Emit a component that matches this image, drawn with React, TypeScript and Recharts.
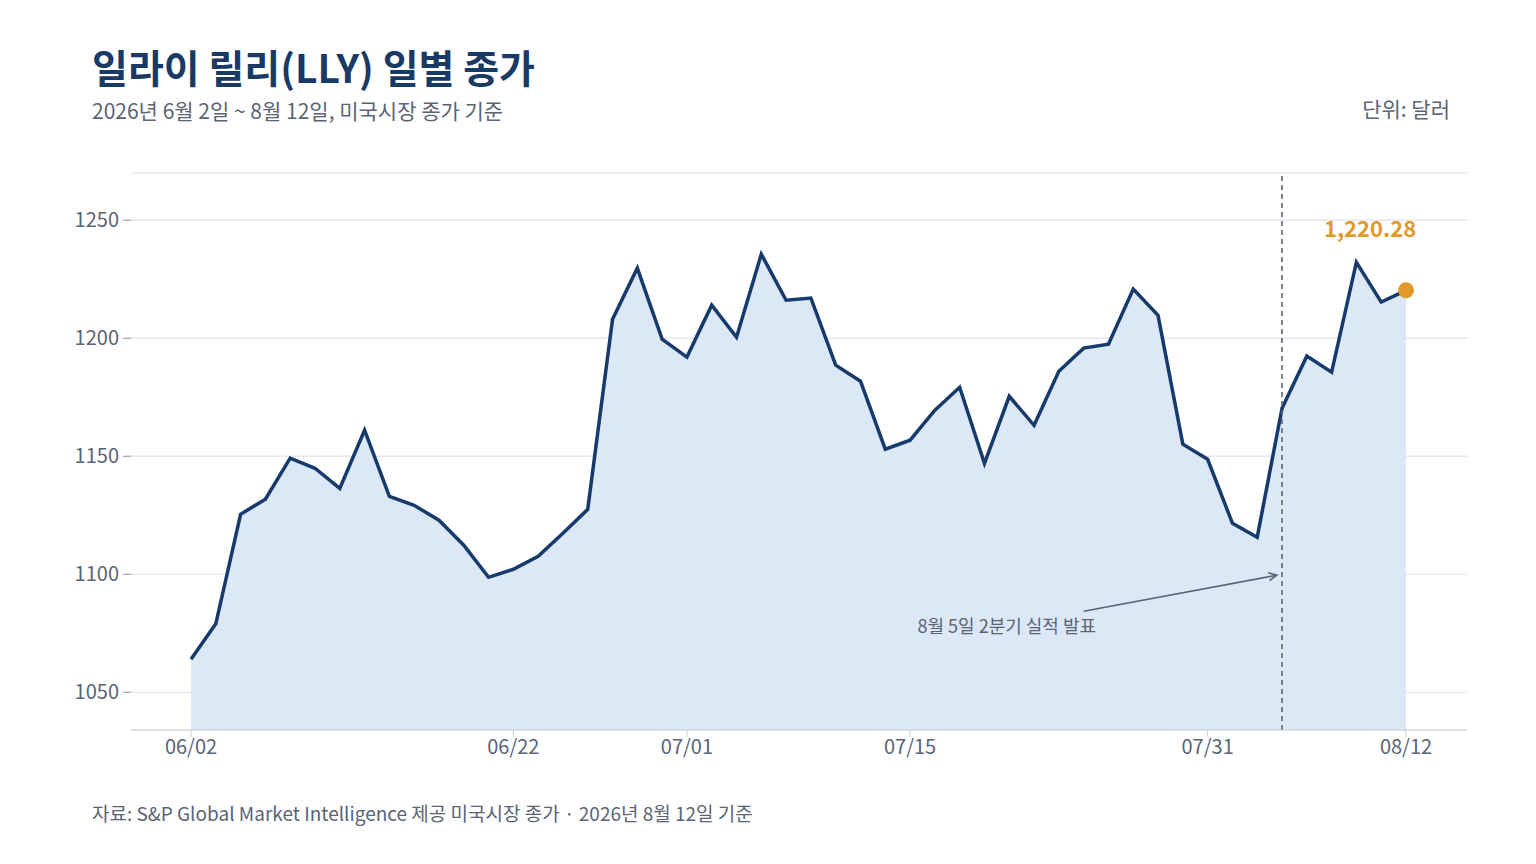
import React from "react";
import {
  ComposedChart,
  Area,
  XAxis,
  YAxis,
  CartesianGrid,
  ReferenceLine,
  ReferenceDot,
} from "recharts";

const dates = [
  "06/02", "06/03", "06/04", "06/05", "06/08", "06/09", "06/10", "06/11", "06/12", "06/15",
  "06/16", "06/17", "06/18", "06/22", "06/23", "06/24", "06/25", "06/26", "06/29", "06/30",
  "07/01", "07/02", "07/06", "07/07", "07/08", "07/09", "07/10", "07/13", "07/14", "07/15",
  "07/16", "07/17", "07/20", "07/21", "07/22", "07/23", "07/24", "07/27", "07/28", "07/29",
  "07/30", "07/31", "08/03", "08/04", "08/05", "08/06", "08/07", "08/10", "08/11", "08/12",
];

const closes = [
  1064, 1079, 1125.4, 1131.8, 1149.2, 1144.9, 1136.4, 1161, 1133, 1129.2,
  1122.9, 1112.3, 1098.7, 1102.1, 1107.6, 1117.4, 1127.5, 1208, 1229.7, 1199.6,
  1192, 1214, 1200.4, 1235.6, 1216.1, 1217, 1188.6, 1181.8, 1153, 1156.8,
  1169.5, 1179.2, 1147, 1175.4, 1163.1, 1186, 1195.8, 1197.5, 1220.8, 1209.7,
  1155.1, 1148.7, 1121.6, 1115.7, 1170.3, 1192.4, 1185.6, 1232.2, 1215.3, 1220.28,
];

const xTickLabels = ["06/02", "06/22", "07/01", "07/15", "07/31", "08/12"];
const yTicks = [1050, 1100, 1150, 1200, 1250];

const data = dates.map((d, i) => ({ i, date: d, close: closes[i] }));
const xTicks = xTickLabels.map((l) => dates.indexOf(l));
const eventIdx = dates.indexOf("08/05");
const lastIdx = dates.length - 1;

const FONT = "'Noto Sans CJK KR', 'Noto Sans', sans-serif";
const GRAY = "#5a6475";
const NAVY = "#163a6b";

// 화살표 (주석선)
const Arrow = (props: any) => {
  const { x1, y1, x2, y2 } = props;
  if (x1 == null) return null;
  const a = Math.atan2(y2 - y1, x2 - x1);
  const L = 9;
  const p1 = [x2 - L * Math.cos(a - 0.45), y2 - L * Math.sin(a - 0.45)];
  const p2 = [x2 - L * Math.cos(a + 0.45), y2 - L * Math.sin(a + 0.45)];
  return (
    <g stroke={GRAY} strokeWidth={1.6} fill="none">
      <line x1={x1} y1={y1} x2={x2} y2={y2} />
      <path d={`M${p1[0]},${p1[1]} L${x2},${y2} L${p2[0]},${p2[1]}`} />
    </g>
  );
};

export default function App() {
  return (
    <div style={{ position: "absolute", left: 0, top: 0, width: 1536, height: 864, background: "#fff", fontFamily: FONT }}>
      <div style={{ position: "absolute", left: 92, top: 38, fontSize: 39, fontWeight: 700, color: "#1a3a66" }}>
        일라이 릴리(LLY) 일별 종가
      </div>
      <div style={{ position: "absolute", left: 92, top: 95, fontSize: 21, color: GRAY }}>
        2026년 6월 2일 ~ 8월 12일, 미국시장 종가 기준
      </div>
      <div style={{ position: "absolute", right: 86, top: 93, fontSize: 21, color: GRAY }}>
        단위: 달러
      </div>
      <div style={{ position: "absolute", left: 92, top: 799, fontSize: 19, color: GRAY }}>
        자료: S&amp;P Global Market Intelligence 제공 미국시장 종가 · 2026년 8월 12일 기준
      </div>
      <div style={{ position: "absolute", left: 0, top: 0 }}>
        <ComposedChart
          width={1536}
          height={864}
          data={data}
          margin={{ top: 173, right: 69, bottom: 134 - 40, left: 71 }}
        >
          <CartesianGrid vertical={false} stroke="#dde2ea" strokeWidth={1.2} />
          <XAxis
            dataKey="i"
            type="number"
            domain={[0, lastIdx]}
            ticks={xTicks}
            tickFormatter={(v: number) => dates[v]}
            padding={{ left: 60, right: 61 }}
            height={40}
            stroke="#c8cfdb"
            tick={{ fill: GRAY, fontSize: 20, fontFamily: FONT }}
            tickSize={7}
            tickMargin={3}
          />
          <YAxis
            domain={[1034, 1270]}
            ticks={yTicks}
            width={60}
            axisLine={false}
            stroke="#8a94a5"
            tick={{ fill: GRAY, fontSize: 20, fontFamily: FONT }}
            tickSize={8}
            tickMargin={4}
          />
          <Area
            type="linear"
            dataKey="close"
            stroke={NAVY}
            strokeWidth={3.5}
            fill="#dce8f6"
            fillOpacity={1}
            isAnimationActive={false}
            dot={false}
            activeDot={false}
          />
          <ReferenceLine x={eventIdx} stroke={GRAY} strokeWidth={1.6} strokeDasharray="5 4" />
          <ReferenceLine
            segment={[
              { x: 36, y: 1084.3 },
              { x: 43.79, y: 1099.6 },
            ]}
            shape={<Arrow />}
          />
          <ReferenceDot
            x={32.9}
            y={1078}
            r={0}
            stroke="none"
            label={{ value: "8월 5일 2분기 실적 발표", fill: GRAY, fontSize: 18, fontFamily: FONT, position: "center" }}
          />
          <ReferenceDot
            x={47.55}
            y={1246.3}
            r={0}
            stroke="none"
            label={{ value: "1,220.28", fill: "#e09a2a", fontSize: 22, fontWeight: 700, fontFamily: FONT, position: "center" }}
          />
          <ReferenceDot x={lastIdx} y={closes[lastIdx]} r={8} fill="#e09a2a" stroke="none" />
        </ComposedChart>
      </div>
    </div>
  );
}
